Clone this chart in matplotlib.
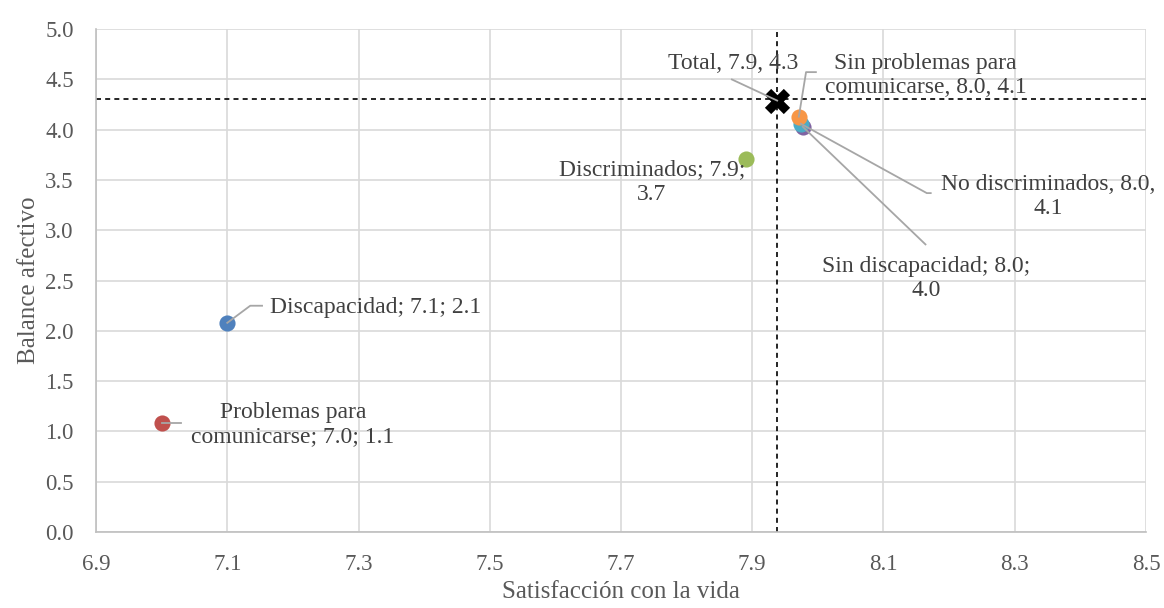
import matplotlib.pyplot as plt

plt.rcParams['font.family'] = ['Liberation Serif', 'DejaVu Serif']

# data (Excel series order)
groups = ['Discapacidad', 'Problemas para comunicarse', 'Discriminados',
          'Sin discapacidad', 'No discriminados', 'Sin problemas para comunicarse']
satisfaccion = [7.10, 7.00, 7.89, 7.977, 7.974, 7.971]
balance = [2.08, 1.08, 3.705, 4.03, 4.06, 4.13]
colors = ['#4F81BD', '#C0504D', '#9BBB59', '#8064A2', '#4BACC6', '#F79646']

total_x, total_y = 7.938, 4.29
ref_x, ref_y = 7.937, 4.31

labels = ['Discapacidad; 7.1; 2.1', 'Problemas para\ncomunicarse; 7.0; 1.1',
          'Discriminados; 7.9;\n3.7', 'Sin discapacidad; 8.0;\n4.0',
          'No discriminados, 8.0,\n4.1', 'Sin problemas para\ncomunicarse, 8.0, 4.1']
label_pos = [(7.165, 2.23), (7.20, 1.07), (7.747, 3.48), (8.165, 2.52), (8.351, 3.34), (8.164, 4.543)]
label_ha = ['left', 'center', 'center', 'center', 'center', 'center']
# leader line elbows (None = no leader)
leader = [[(7.135, 2.25), (7.153, 2.25)],
          [(7.029, 1.08)],
          None,
          [(8.164, 2.86)],
          [(8.166, 3.37), (8.172, 3.37)],
          [(7.982, 4.573), (7.997, 4.573)]]

fig, ax = plt.subplots(figsize=(11.64, 6.08), dpi=100)
fig.subplots_adjust(left=0.0825, right=0.9845, top=0.952, bottom=0.125)

ax.axvline(ref_x, color='black', lw=1.2, ls=(0, (3, 2.5)), zorder=1)
ax.axhline(ref_y, color='black', lw=1.2, ls=(0, (3, 2.5)), zorder=1)

for x, y, c in zip(satisfaccion, balance, colors):
    ax.scatter(x, y, s=135, color=c, lw=0, zorder=3)
ax.scatter(total_x, total_y, marker='X', s=330, color='black', lw=0, zorder=4)

for x, y, lab, pos, ha, le in zip(satisfaccion, balance, labels, label_pos, label_ha, leader):
    if le is not None:
        xs = [x] + [p[0] for p in le]
        ys = [y] + [p[1] for p in le]
        ax.plot(xs, ys, color='#A6A6A6', lw=1.3, zorder=5)
    ax.text(pos[0], pos[1], lab, ha=ha, va='center', fontsize=17, color='#404040',
            linespacing=1.2, multialignment='center', zorder=6)

ax.plot([total_x, 7.869], [total_y, 4.50], color='#A6A6A6', lw=1.3, zorder=5)
ax.text(7.971, 4.66, 'Total, 7.9, 4.3', ha='right', va='center', fontsize=17, color='#404040', zorder=6)

ax.set_xlim(6.9, 8.5)
ax.set_ylim(0, 5)
ax.set_xticks([6.9, 7.1, 7.3, 7.5, 7.7, 7.9, 8.1, 8.3, 8.5])
ax.set_yticks([i * 0.5 for i in range(11)])
ax.xaxis.set_major_formatter(plt.FormatStrFormatter('%.1f'))
ax.yaxis.set_major_formatter(plt.FormatStrFormatter('%.1f'))
ax.tick_params(length=0, labelsize=16.5, labelcolor='#595959')
ax.tick_params(axis='x', pad=16)
ax.tick_params(axis='y', pad=16)
ax.grid(color='#D9D9D9', lw=1.2)
ax.set_axisbelow(True)
for s in ['top', 'right']:
    ax.spines[s].set_visible(False)
for s in ['left', 'bottom']:
    ax.spines[s].set_color('#BFBFBF')
    ax.spines[s].set_linewidth(1.2)

ax.set_xlabel('Satisfacción con la vida', fontsize=18, color='#595959', labelpad=4)
ax.set_ylabel('Balance afectivo', fontsize=18, color='#595959', labelpad=4)

fig.savefig('out.png', dpi=100)
